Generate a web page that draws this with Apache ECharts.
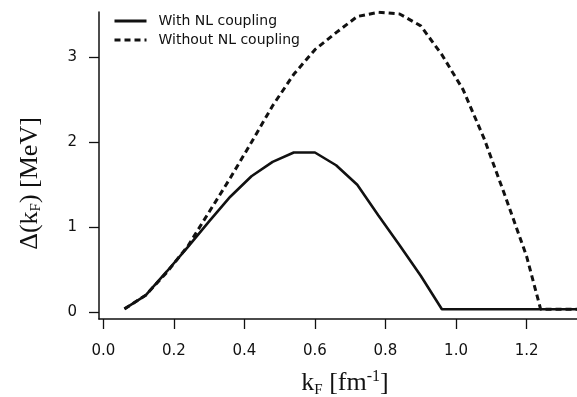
<!DOCTYPE html>
<html>
<head>
<meta charset="utf-8">
<script src="https://cdn.jsdelivr.net/npm/echarts@6/dist/echarts.min.js"></script>
<style>
html,body{margin:0;padding:0;background:#fff;}
#c{width:577px;height:397px;}
</style>
</head>
<body>
<div id="c"></div>
<script>
// Fermi momentum k_F [fm^-1] and gap Delta(k_F) [MeV]
const solidK   = [0.06,0.12,0.18,0.24,0.30,0.36,0.42,0.48,0.54,0.60,0.66,0.72,0.78,0.84,0.90,0.96,1.40];
const solidGap = [0.04,0.20,0.48,0.77,1.07,1.36,1.60,1.77,1.88,1.88,1.73,1.50,1.14,0.79,0.43,0.035,0.035];
const dashK    = [0.06,0.12,0.18,0.24,0.30,0.36,0.42,0.48,0.54,0.60,0.66,0.72,0.78,0.84,0.90,0.96,1.02,1.08,1.14,1.20,1.24,1.40];
const dashGap  = [0.04,0.20,0.47,0.78,1.18,1.58,2.00,2.43,2.80,3.09,3.29,3.48,3.53,3.51,3.37,3.03,2.62,2.04,1.36,0.66,0.035,0.035];
const seriesNames = ['With NL coupling','Without NL coupling'];
const xTicks = [0.0,0.2,0.4,0.6,0.8,1.0,1.2];
const yTicks = [0,1,2,3];

const pair = (xs, ys) => xs.map((x, i) => [x, ys[i]]);
const sans = 'DejaVu Sans';
const serif = 'Liberation Serif';
const ink = '#111';

const chart = echarts.init(document.getElementById('c'), null, {renderer: 'canvas'});
chart.setOption({
  animation: false,
  backgroundColor: '#fff',
  grid: {left: 99, right: 0, top: 12, bottom: 78, containLabel: false, outerBoundsMode: 'none'},
  legend: {
    left: 108, top: 9, orient: 'vertical',
    itemWidth: 32, itemHeight: 14, itemGap: 5,
    itemStyle: {opacity: 0},
    lineStyle: {width: 3},
    textStyle: {fontFamily: sans, fontSize: 14, color: ink, padding: [0, 0, 0, 7]},
    data: seriesNames
  },
  xAxis: {
    type: 'value', min: -0.0122, max: 1.343,
    splitLine: {show: false},
    axisLine: {show: true, onZero: false, lineStyle: {color: ink, width: 1.5}},
    axisTick: {show: true, length: 10, customValues: xTicks, lineStyle: {color: ink, width: 1.3}},
    axisLabel: {customValues: xTicks, margin: 25, fontFamily: sans, fontSize: 15, color: ink,
      formatter: v => v.toFixed(1)},
    name: '{n|k}{s|F}{n| [fm}{p|-1}{n|]}',
    nameLocation: 'middle', nameGap: 50,
    nameTextStyle: {padding: [0, 0, 0, 14], rich: {
      n: {fontFamily: serif, fontSize: 26, color: ink},
      s: {fontFamily: serif, fontSize: 15, color: ink, padding: [13, 0, 0, 0]},
      p: {fontFamily: serif, fontSize: 16, color: ink, padding: [0, 0, 13, 0]}
    }}
  },
  yAxis: {
    type: 'value', min: -0.079, max: 3.533,
    splitLine: {show: false},
    axisLine: {show: true, onZero: false, lineStyle: {color: ink, width: 1.5}},
    axisTick: {show: true, length: 10, customValues: yTicks, lineStyle: {color: ink, width: 1.3}},
    axisLabel: {customValues: yTicks, margin: 22, fontFamily: sans, fontSize: 15, color: ink,
      formatter: v => String(v)},
    name: '{n|Δ(k}{s|F}{n|) [MeV]}',
    nameLocation: 'middle', nameGap: 55,
    nameTextStyle: {padding: [0, 36, 0, 0], rich: {
      n: {fontFamily: serif, fontSize: 26, color: ink},
      s: {fontFamily: serif, fontSize: 15, color: ink, padding: [13, 0, 0, 0]}
    }}
  },
  series: [
    {name: seriesNames[0], type: 'line', data: pair(solidK, solidGap), showSymbol: false, symbol: 'none',
     clip: true, lineStyle: {color: ink, width: 2.6, type: 'solid'}, itemStyle: {color: ink}, z: 3},
    {name: seriesNames[1], type: 'line', data: pair(dashK, dashGap), showSymbol: false, symbol: 'none',
     clip: true, lineStyle: {color: ink, width: 3, type: [6, 4]}, itemStyle: {color: ink}, z: 2}
  ]
});
</script>
</body>
</html>
